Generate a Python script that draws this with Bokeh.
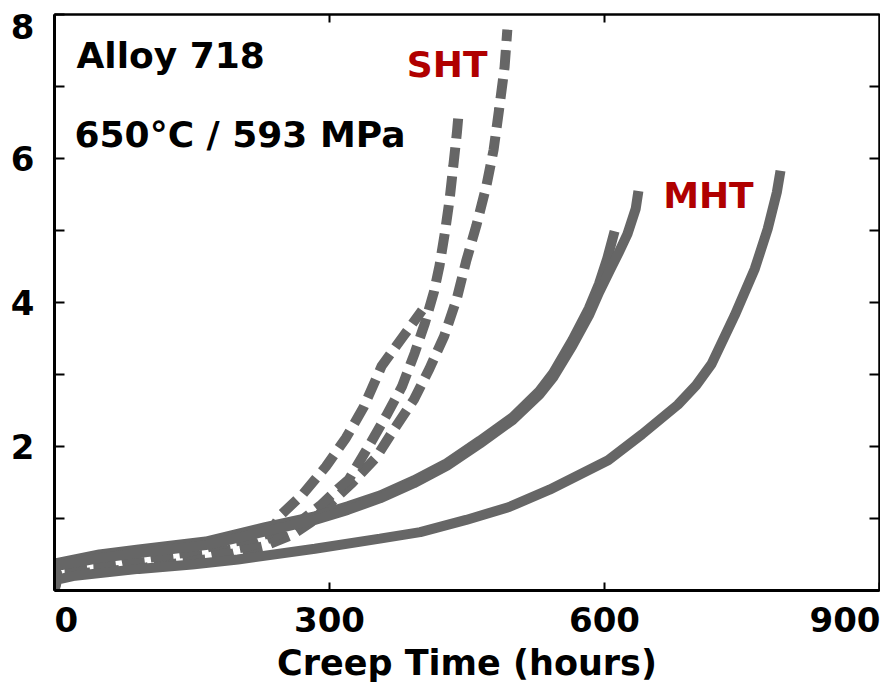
from bokeh.plotting import figure
from bokeh.models import Label, LinearAxis, FixedTicker, Range1d
from bokeh.embed import file_html
from bokeh.resources import INLINE

# ---- data (creep time in hours, creep strain in %) ----
mht_a_t = [0, 3, 20, 92, 150, 200, 284, 355, 399, 449, 496, 540, 604, 641, 680, 700, 717, 742, 764, 778, 788, 792]
mht_a_e = [0.00, 0.15, 0.20, 0.30, 0.36, 0.43, 0.58, 0.72, 0.81, 0.98, 1.16, 1.40, 1.81, 2.17, 2.58, 2.85, 3.15, 3.82, 4.47, 5.02, 5.53, 5.83]

mht_b_t = [0, 2, 49, 92, 165, 230, 284, 320, 355, 392, 428, 464, 500, 529, 544, 565, 583, 594, 603, 611]
mht_b_e = [0.00, 0.38, 0.50, 0.57, 0.68, 0.88, 1.03, 1.17, 1.32, 1.53, 1.77, 2.08, 2.41, 2.77, 3.02, 3.48, 3.92, 4.26, 4.61, 4.99]

mht_c_t = [0, 2, 49, 92, 165, 230, 284, 320, 355, 392, 428, 464, 500, 529, 544, 565, 583, 594, 606, 615, 625, 634, 637]
mht_c_e = [0.00, 0.34, 0.45, 0.52, 0.63, 0.82, 0.98, 1.12, 1.28, 1.49, 1.73, 2.04, 2.37, 2.72, 2.96, 3.40, 3.82, 4.14, 4.45, 4.68, 4.95, 5.30, 5.55]

sht_1_t = [0, 3, 50, 100, 170, 230, 260, 280, 300, 325, 351, 371, 392, 409, 425, 439, 449, 460, 471, 479, 485, 491, 494]
sht_1_e = [0.00, 0.22, 0.26, 0.32, 0.44, 0.62, 0.78, 0.95, 1.20, 1.50, 1.85, 2.25, 2.65, 3.08, 3.53, 4.06, 4.57, 5.06, 5.61, 6.12, 6.68, 7.27, 7.79]

sht_2_t = [0, 3, 50, 100, 165, 214, 245, 270, 290, 309, 321, 343, 362, 379, 393, 404, 414, 420, 426, 431, 435, 439, 441]
sht_2_e = [0.00, 0.26, 0.32, 0.40, 0.50, 0.62, 0.78, 0.98, 1.18, 1.41, 1.54, 2.01, 2.43, 2.83, 3.30, 3.71, 4.15, 4.51, 4.98, 5.43, 5.89, 6.36, 6.65]

sht_3_t = [0, 3, 50, 95, 141, 184, 215, 235, 247, 271, 296, 318, 337, 357, 381, 401]
sht_3_e = [0.00, 0.30, 0.33, 0.44, 0.52, 0.65, 0.72, 0.80, 1.05, 1.34, 1.72, 2.12, 2.54, 3.12, 3.54, 3.89]

x_tick_values = [0, 300, 600, 900]
x_tick_labels = ["\u00a0\u00a00", "300", "600", "900"]
y_tick_values = [2, 4, 6, 8]
y_tick_labels = ["2", "4", "6", "\n8"]
x_minor_marks = [300, 600]
y_minor_marks = [1, 2, 3, 4, 5, 6, 7]

FONT = "DejaVu Sans"
GRAY = "#666666"
RED = "#b00000"

p = figure(width=880, height=685,
           x_range=Range1d(0, 900), y_range=Range1d(0, 8),
           output_backend="svg", toolbar_location=None,
           min_border_left=54, min_border_right=1,
           min_border_top=14, min_border_bottom=91)
p.xgrid.grid_line_color = None
p.ygrid.grid_line_color = None
p.outline_line_color = "black"
p.outline_line_width = 2
p.background_fill_color = "white"
p.border_fill_color = "white"

def base_axis(ax, ticks, tick_len, line_w):
    ax.ticker = FixedTicker(ticks=ticks)
    ax.major_tick_in = tick_len
    ax.major_tick_out = 0
    ax.minor_tick_line_color = None
    ax.major_tick_line_width = 2
    ax.major_tick_line_color = "black"
    ax.axis_line_width = line_w
    ax.axis_line_color = "black"

# bottom axis
xa = p.xaxis[0]
base_axis(xa, x_tick_values, 8, 3)
xa.major_label_overrides = {v: s for v, s in zip(x_tick_values, x_tick_labels)}
xa.major_label_text_font = FONT
xa.major_label_text_font_style = "bold"
xa.major_label_text_font_size = "34px"
xa.major_label_text_color = "black"
xa.major_label_standoff = 9
xa.axis_label = "Creep Time (hours)"
xa.axis_label_text_font = FONT
xa.axis_label_text_font_style = "bold"
xa.axis_label_text_font_size = "35px"
xa.axis_label_text_color = "black"
xa.axis_label_standoff = 0

# left axis
ya = p.yaxis[0]
base_axis(ya, y_minor_marks + [8], 10, 3)
overrides = {v: "" for v in [1, 3, 5, 7]}
overrides.update({v: s for v, s in zip(y_tick_values, y_tick_labels)})
ya.major_label_overrides = overrides
ya.major_label_text_font = FONT
ya.major_label_text_font_style = "bold"
ya.major_label_text_font_size = "34px"
ya.major_label_text_line_height = 0.16
ya.major_label_text_color = "black"
ya.major_label_standoff = 20

# mirrored ticks on top and right
top_ax = LinearAxis()
base_axis(top_ax, x_minor_marks, 8, 2)
top_ax.major_label_text_color = None
top_ax.major_label_text_font_size = "1px"
top_ax.major_label_standoff = 0
p.add_layout(top_ax, "above")

right_ax = LinearAxis()
base_axis(right_ax, y_minor_marks, 10, 2)
right_ax.major_label_text_color = None
right_ax.major_label_text_font_size = "1px"
right_ax.major_label_standoff = 0
p.add_layout(right_ax, "right")

# curves
for t, e in [(sht_1_t, sht_1_e), (sht_2_t, sht_2_e), (sht_3_t, sht_3_e)]:
    p.line(t, e, line_width=10, line_color=GRAY, line_dash="20 9")
for t, e in [(mht_a_t, mht_a_e), (mht_b_t, mht_b_e), (mht_c_t, mht_c_e)]:
    p.line(t, e, line_width=10, line_color=GRAY)

# annotations inside the frame
def note(x, y, s, color):
    p.add_layout(Label(x=x, y=y, text=s, text_align="left", y_offset=13,
                       text_baseline="alphabetic", text_font=FONT,
                       text_font_style="bold", text_font_size="36px",
                       text_color=color))

note(24.0, 7.255, "Alloy 718", "black")
note(21.8, 6.15, "650\u00b0C / 593 MPa", "black")
note(384.4, 7.12, "SHT", RED)
note(664.0, 5.30, "MHT", RED)

open("out.html", "w").write(file_html(p, INLINE))
